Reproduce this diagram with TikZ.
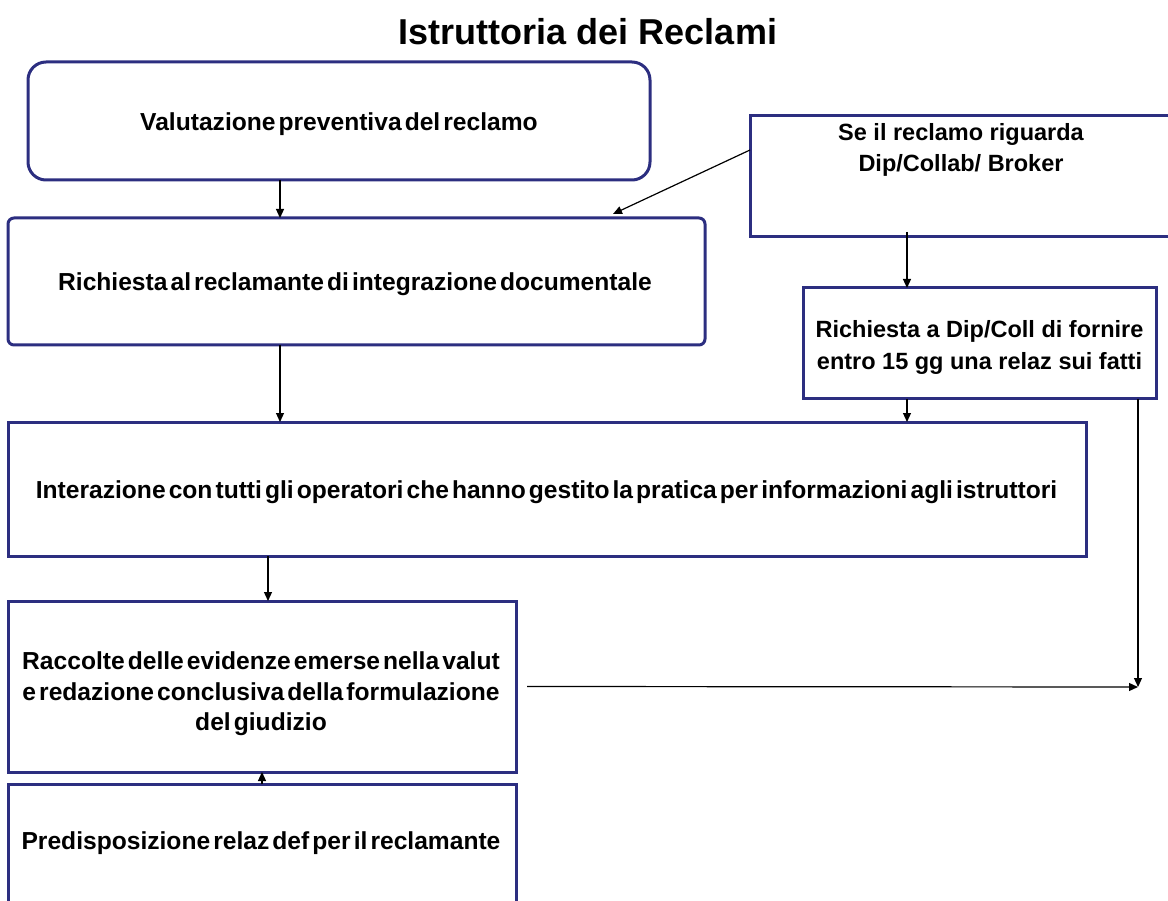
\documentclass[tikz,border=0pt]{standalone}
\usepackage{fontspec}
\setmainfont{Liberation Sans}
\newfontfamily\tightfont[WordSpace={0.45,0,0}]{Liberation Sans}
\usetikzlibrary{arrows.meta}
\definecolor{navy}{RGB}{44,46,128}
\begin{document}
\begin{tikzpicture}[x=1pt,y=-1pt,
  box/.style={draw=navy, line width=3pt, inner sep=0pt, outer sep=0pt},
  lbl/.style={inner sep=0pt, align=center, font=\fontsize{23.5}{31}\selectfont\bfseries},
  tlbl/.style={inner sep=0pt, align=center, font=\tightfont\fontsize{24.6}{30.5}\selectfont\bfseries},
  arr/.style={-{Triangle[length=9pt,width=8pt]}, line width=1.2pt, black}]
\useasboundingbox (0,0) rectangle (1168,901);

\node[font=\fontsize{36}{42}\selectfont\bfseries] (title) at (588,32) {Istruttoria dei Reclami};

\node[box, rounded corners=18pt, minimum width=622pt, minimum height=118pt] (b1) at (339,121) {};
\node[tlbl] (b1t) at (339,124) {Valutazione preventiva del reclamo};
\node[box, rounded corners=6pt, minimum width=697pt, minimum height=127pt] (b2) at (356.5,281.5) {};
\node[tlbl] (b2t) at (355,284.5) {Richiesta al reclamante di integrazione documentale};
\node[box, minimum width=428pt, minimum height=121pt] (b3) at (964,176.5) {};
\node[lbl] (b3t) at (961,150) {Se il reclamo riguarda\\Dip/Collab/ Broker};
\node[box, minimum width=353pt, minimum height=111pt] (b4) at (979.5,343.5) {};
\node[lbl, font=\fontsize{23.5}{32}\selectfont\bfseries] (b4t) at (979.5,347.5) {Richiesta a Dip/Coll di fornire\\entro 15 gg una relaz sui fatti};
\node[box, minimum width=1078pt, minimum height=134pt] (b5) at (547,489) {};
\node[tlbl] (b5t) at (546.5,492) {Interazione con tutti gli operatori che hanno gestito la pratica per informazioni agli istruttori};
\node[box, minimum width=508pt, minimum height=171pt] (b6) at (262,686.5) {};
\node[tlbl] (b6t) at (261,694) {Raccolte delle evidenze emerse nella valut\\e redazione conclusiva della formulazione\\del giudizio};
\node[box, minimum width=508pt, minimum height=126pt] (b7) at (262,847) {};
\node[tlbl] (b7t) at (261,843) {Predisposizione relaz def per il reclamante};

\coordinate (xa) at (280,0);
\coordinate (xb) at (907,0);
\coordinate (xc) at (268,0);
\coordinate (meet) at (1138,687);
\coordinate (diagend) at (613,214);

\draw[arr] (b1.south -| xa) -- (b2.north -| xa);
\draw[arr] ([yshift=26.5pt]b3.west) -- (diagend);
\draw[arr] ([yshift=5pt]b3.south -| xb) -- (b4.north -| xb);
\draw[arr] (b4.south -| xb) -- (b5.north -| xb);
\draw[arr] (b2.south -| xa) -- (b5.north -| xa);
\draw[arr] (b5.south -| xc) -- (b6.north -| xc);
\draw[arr] (b7.north) -- (b6.south);
\draw[arr] (b4.south -| meet) -- (meet);
\draw[arr] ([xshift=11pt]b6.east) -- (meet);
\end{tikzpicture}
\end{document}
